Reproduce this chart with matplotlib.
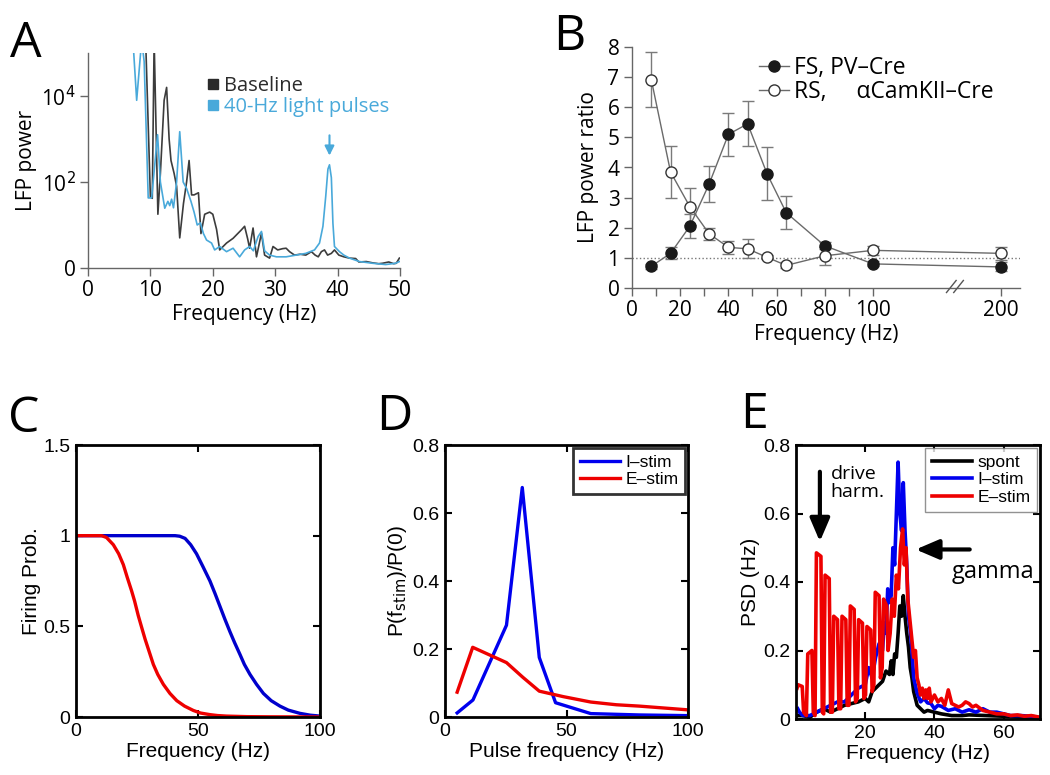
import numpy as np
import matplotlib.pyplot as plt
from matplotlib.lines import Line2D

# ---------------- panel A: LFP spectra (log10 power) ----------------
a_base_f = [8.4, 9.3, 10.0, 10.3, 10.6, 11.2, 11.6, 12.2, 12.6, 13.0, 13.3, 13.8, 14.2,
            14.7, 15.3, 15.8, 16.2, 16.6, 17.0, 17.7, 18.1, 18.7, 19.5, 20.0, 20.6,
            21.1, 22.2, 23.25, 24.6, 25.1, 25.6, 25.9, 26.45, 27.0, 27.8, 28.3, 29.1,
            29.65, 30.4, 31.2, 31.75, 32.3, 33.1, 34.0, 34.9, 35.8, 36.4, 36.9, 37.4,
            37.9, 38.4, 39.0, 39.5, 40.2, 41.0, 41.9, 42.9, 43.4, 44.6, 45.6, 46.6,
            47.2, 48.2, 49.0, 49.4, 49.9]
a_base_lp = [5.3, 5.0, 1.65, 1.62, 5.3, 1.25, 2.2, 3.9, 4.2, 3.0, 2.5, 2.2, 1.9,
             0.7, 1.5, 2.0, 2.5, 1.7, 1.7, 1.75, 0.8, 1.25, 1.3, 1.25, 0.9,
             0.42, 0.58, 0.69, 0.89, 0.97, 0.67, 0.46, 0.93, 0.26, 0.81, 0.3, 0.23,
             0.5, 0.42, 0.45, 0.46, 0.38, 0.3, 0.32, 0.3, 0.38, 0.3, 0.26, 0.38,
             0.42, 0.3, 0.34, 0.42, 0.3, 0.26, 0.23, 0.22, 0.14, 0.15, 0.12, 0.1,
             0.11, 0.14, 0.1, 0.11, 0.23]
a_stim_f = [7.2, 7.8, 8.6, 9.0, 9.65, 10.2, 11.15, 11.6, 12.3, 12.8, 13.1, 13.4, 13.7,
            14.2, 14.7, 15.25, 15.8, 16.5, 17.0, 17.5, 18.0, 18.5, 19.0, 19.8, 20.3,
            21.1, 22.2, 23.25, 24.3, 25.1, 25.9, 26.5, 27.25, 27.8, 28.3, 29.1, 30.2,
            31.75, 33.35, 34.9, 36.3, 37.1, 37.65, 38.1, 38.45, 38.7, 39.0, 39.25,
            39.5, 40.3, 41.0, 41.9, 43.5, 45.6, 47.7, 49.3, 49.9]
a_stim_lp = [5.3, 3.9, 5.3, 4.8, 1.63, 1.63, 3.1, 2.0, 1.39, 1.55, 1.45, 1.6, 1.4,
             2.0, 3.17, 2.0, 1.85, 1.55, 1.3, 1.0, 1.05, 0.8, 0.65, 0.58, 0.42,
             0.5, 0.38, 0.46, 0.26, 0.42, 0.5, 0.4, 0.73, 0.85, 0.4, 0.3, 0.26,
             0.26, 0.3, 0.34, 0.42, 0.58, 0.97, 1.67, 2.3, 2.4, 2.1, 1.04,
             0.5, 0.38, 0.3, 0.23, 0.15, 0.11, 0.08, 0.11, 0.15]

# ---------------- panel B: power ratio vs stim frequency ----------------
b_freq = [8, 16, 24, 32, 40, 48, 56, 64, 80, 100, 200]
fs_mean = [0.72, 1.15, 2.05, 3.45, 5.1, 5.45, 3.8, 2.5, 1.4, 0.8, 0.7]
fs_err = [0.08, 0.2, 0.4, 0.6, 0.72, 0.75, 0.88, 0.55, 0.12, 0.08, 0.15]
rs_mean = [6.92, 3.85, 2.7, 1.8, 1.35, 1.3, 1.02, 0.75, 1.07, 1.25, 1.15]
rs_err = [0.92, 0.87, 0.62, 0.2, 0.22, 0.32, 0.06, 0.1, 0.3, 0.15, 0.22]
B_POS_200 = 153      # where 200 Hz sits on the broken axis
B_BREAK = 134
B_END = 161

# ---------------- panel C: firing probability ----------------
c_blue_f = [0, 10, 20, 30, 40.6, 42.5, 44.7, 47, 49.4, 52, 54.9, 57, 59, 61, 63.1, 65,
            67.2, 69, 71.3, 74, 76.8, 80, 83.6, 87, 91.8, 96, 100]
c_blue_p = [1, 1, 1, 1, 1, 0.997, 0.985, 0.95, 0.9, 0.83, 0.75, 0.68, 0.61, 0.54, 0.47,
            0.41, 0.345, 0.29, 0.235, 0.18, 0.13, 0.09, 0.06, 0.038, 0.02, 0.01, 0.005]
c_red_f = [0, 5, 10.5, 12.5, 15.3, 17.5, 19.4, 21, 22.8, 24, 25.5, 27, 28.3, 30, 31.7,
           33.5, 35.8, 38.5, 41.3, 44.5, 48.1, 51, 54.9, 58, 61.7, 70, 80, 100]
c_red_p = [1, 1, 1, 0.99, 0.95, 0.9, 0.84, 0.77, 0.695, 0.64, 0.56, 0.49, 0.43, 0.36,
           0.29, 0.235, 0.18, 0.13, 0.09, 0.06, 0.036, 0.022, 0.013, 0.008, 0.005,
           0.002, 0.001, 0.0]

# ---------------- panel D: relative power at stim frequency ----------------
d_f = [5, 11.5, 25.3, 31.8, 38.8, 45.5, 60, 80, 100]
d_istim = [0.012, 0.05, 0.27, 0.675, 0.175, 0.042, 0.01, 0.006, 0.004]
d_estim_f = [5, 11.4, 25.3, 32, 38.8, 48.6, 60, 70.5, 80, 100]
d_estim = [0.073, 0.205, 0.16, 0.117, 0.076, 0.06, 0.044, 0.036, 0.032, 0.021]

# ---------------- panel E: PSD ----------------
e_spont_f = [0.5, 2, 4, 6, 8, 10, 12, 14, 16, 18, 20, 21, 22, 23, 24, 25, 26, 27, 27.5,
             28, 28.5, 29, 29.5, 30, 30.5, 31, 31.5, 32, 32.5, 33, 33.5, 34, 35, 36, 37,
             38, 40, 42, 45, 48, 50, 55, 60, 65, 70]
e_spont = [0.01, 0.01, 0.005, 0.02, 0.03, 0.02, 0.03, 0.04, 0.045, 0.05, 0.06, 0.05,
           0.08, 0.09, 0.1, 0.11, 0.14, 0.13, 0.17, 0.13, 0.19, 0.18, 0.25, 0.33, 0.3,
           0.36, 0.3, 0.25, 0.21, 0.15, 0.12, 0.08, 0.04, 0.03, 0.02, 0.025, 0.02,
           0.015, 0.01, 0.01, 0.012, 0.01, 0.008, 0.005, 0.003]
e_istim_f = [0.5, 1, 2, 4, 6, 8, 10, 12, 14, 16, 18, 20, 21, 22, 23, 24, 25, 25.5, 26,
             26.5, 27, 27.5, 28, 28.5, 29, 29.5, 30, 30.5, 31, 31.5, 32, 32.5, 33, 33.5,
             34, 35, 36, 37, 38, 39, 40, 41, 42, 44, 46, 48, 50, 52, 54, 56, 58, 60, 62,
             65, 68, 70]
e_istim = [0.03, 0.02, 0.01, 0.01, 0.02, 0.03, 0.04, 0.05, 0.05, 0.07, 0.09, 0.1,
           0.15, 0.12, 0.18, 0.22, 0.2, 0.28, 0.25, 0.38, 0.34, 0.36, 0.5, 0.45, 0.6,
           0.75, 0.6, 0.55, 0.69, 0.55, 0.45, 0.3, 0.26, 0.2, 0.12, 0.076, 0.05, 0.06,
           0.047, 0.045, 0.03, 0.04, 0.037, 0.025, 0.03, 0.02, 0.027, 0.02, 0.03, 0.02,
           0.02, 0.015, 0.01, 0.01, 0.008, 0.005]
e_estim_f = [0.3, 0.6, 1.8, 2.2, 3.0, 3.4, 4.6, 5.0, 5.5, 5.9, 7.2, 7.6, 8.0, 8.4, 9.6,
             10.0, 10.5, 10.9, 12.0, 12.4, 12.9, 13.3, 14.4, 14.8, 15.3, 15.7, 16.8,
             17.2, 17.7, 18.1, 19.2, 19.6, 20.1, 20.5, 21.6, 22.0, 22.5, 22.9, 24.0,
             24.4, 24.9, 25.3, 26.2, 26.6, 27.2, 27.8, 28.4, 29.0, 29.6, 30.2, 30.8,
             31.3, 31.8, 32.3, 32.8, 33.3, 34.0, 34.5, 35.0, 35.5, 36.0, 36.5, 37.0,
             37.5, 38.0, 38.5, 39.0, 40.0, 41.0, 42.0, 43.0, 44.0, 45.0, 46.0, 47.0,
             48.0, 49.0, 50.0, 51.0, 52.0, 54.0, 56.0, 58.0, 60.0, 62.0, 64.0, 66.0,
             68.0, 70.0]
e_estim = [0.09, 0.1, 0.095, 0.02, 0.01, 0.19, 0.2, 0.02, 0.01, 0.485, 0.475, 0.02,
           0.015, 0.42, 0.41, 0.02, 0.02, 0.3, 0.29, 0.03, 0.03, 0.3, 0.29, 0.04, 0.04,
           0.33, 0.32, 0.05, 0.06, 0.29, 0.28, 0.06, 0.07, 0.27, 0.26, 0.08, 0.1,
           0.37, 0.36, 0.12, 0.15, 0.35, 0.33, 0.2, 0.25, 0.35, 0.3, 0.42, 0.38,
           0.5, 0.555, 0.45, 0.5, 0.35, 0.3, 0.25, 0.18, 0.2, 0.12, 0.1, 0.07, 0.09,
           0.06, 0.085, 0.06, 0.09, 0.05, 0.07, 0.05, 0.06, 0.04, 0.085, 0.045, 0.04,
           0.035, 0.04, 0.05, 0.045, 0.035, 0.04, 0.025, 0.02, 0.015, 0.015, 0.01,
           0.012, 0.008, 0.01, 0.006]

W, H = 1050, 775
MYR = ['Open Sans', 'DejaVu Sans']
HEL = ['Liberation Sans', 'DejaVu Sans']
GRAY_AX = '#666666'
A_BLUE = '#49a9da'


def rect(l, t, r, b):
    # pixel box -> figure fraction
    return [l / W, 1 - b / H, (r - l) / W, (b - t) / H]


def style_myriad(ax):
    for s in ['top', 'right']:
        ax.spines[s].set_visible(False)
    for s in ['left', 'bottom']:
        ax.spines[s].set_color(GRAY_AX)
        ax.spines[s].set_linewidth(1.0)
    ax.tick_params(direction='out', length=6, width=1, color=GRAY_AX,
                   labelsize=15, pad=3)
    for lb in ax.get_xticklabels() + ax.get_yticklabels():
        lb.set_family(MYR)


def style_matlab(ax):
    for s in ax.spines.values():
        s.set_linewidth(2.0)
        s.set_color('black')
    ax.tick_params(direction='in', length=5, width=1.5, top=True, right=True,
                   labelsize=14, pad=4)
    for lb in ax.get_xticklabels() + ax.get_yticklabels():
        lb.set_family(HEL)


fig = plt.figure(figsize=(W / 100, H / 100), dpi=100)

# ---------- A ----------
axA = fig.add_axes(rect(88, 53, 400, 268))
axA.plot(a_base_f, a_base_lp, color='#3c3c3c', lw=1.2)
axA.plot(a_stim_f, a_stim_lp, color=A_BLUE, lw=1.2)
axA.set_xlim(0, 50)
axA.set_ylim(0, 5)
axA.set_xticks(range(0, 51, 10))
axA.set_yticks([0, 2, 4])
axA.set_yticklabels(['0', r'10$^2$', r'10$^4$'])
axA.annotate('', xy=(38.7, 2.55), xytext=(38.7, 3.15),
             arrowprops=dict(arrowstyle='-|>', color=A_BLUE, lw=1.5,
                             mutation_scale=14))
axA.set_xlabel('Frequency (Hz)', fontsize=15, family=MYR, labelpad=2)
axA.set_ylabel('LFP power', fontsize=15, family=MYR, labelpad=3)
style_myriad(axA)
axA.legend(
    [Line2D([], [], ls='none', marker='s', color='#2a2a2a', ms=7),
     Line2D([], [], ls='none', marker='s', color=A_BLUE, ms=7)],
    ['Baseline', '40-Hz light pulses'], loc='upper left',
    bbox_to_anchor=(0.36, 0.93), frameon=False, handlelength=0.5,
    handletextpad=0.3, labelspacing=0.05, borderaxespad=0,
    prop={'family': MYR, 'size': 14.5}, labelcolor=['#2a2a2a', A_BLUE])

# ---------- B ----------
axB = fig.add_axes(rect(632, 47, 1020, 288))
bx = np.where(np.array(b_freq) <= 100, b_freq, B_POS_200)
axB.axhline(1, color='#777777', lw=1, ls=':', zorder=1)
axB.errorbar(bx, fs_mean, yerr=fs_err, color='#7a7a7a', lw=1, capsize=4,
             capthick=1, ls='none', zorder=2)
axB.errorbar(bx, rs_mean, yerr=rs_err, color='#7a7a7a', lw=1, capsize=4,
             capthick=1, ls='none', zorder=2)
axB.plot(bx, fs_mean, '-o', color='#6a6a6a', lw=1, mfc='#1a1a1a', mec='#1a1a1a',
         ms=8, zorder=3, label='FS, PV–Cre')
axB.plot(bx, rs_mean, '-o', color='#6a6a6a', lw=1, mfc='white', mec='#333333',
         ms=8, zorder=3, label='RS,     αCamKII–Cre')
axB.set_xlim(0, B_END)
axB.set_ylim(0, 8)
axB.set_xticks([0, 20, 40, 60, 80, 100, B_POS_200])
axB.set_xticklabels(['0', '20', '40', '60', '80', '100', '200'])
axB.set_xticks([10, 30, 50, 70, 90], minor=True)
axB.tick_params(which='minor', direction='out', length=6, width=1, color=GRAY_AX)
axB.set_yticks(range(0, 9))
for dx in (-1.5, 1.5):
    axB.plot([B_BREAK + dx - 2, B_BREAK + dx + 2], [-0.15, 0.25],
             color='#555555', lw=1, clip_on=False, zorder=5)
axB.set_xlabel('Frequency (Hz)', fontsize=15, family=MYR, labelpad=2)
axB.set_ylabel('LFP power ratio', fontsize=15, family=MYR, labelpad=6)
style_myriad(axB)
axB.legend(loc='upper right', bbox_to_anchor=(0.955, 1.0), frameon=False,
           handlelength=1.3, handletextpad=0.2, labelspacing=0.0,
           borderaxespad=0, prop={'family': MYR, 'size': 16.5})

# ---------- C ----------
axC = fig.add_axes(rect(76, 445, 320, 717))
axC.plot(c_blue_f, c_blue_p, color='#0000cc', lw=2.4)
axC.plot(c_red_f, c_red_p, color='#ee0000', lw=2.4)
axC.set_xlim(0, 100)
axC.set_ylim(0, 1.5)
axC.set_xticks([0, 50, 100])
axC.set_yticks([0, 0.5, 1, 1.5])
axC.set_yticklabels(['0', '0.5', '1', '1.5'])
axC.set_xlabel('Frequency (Hz)', fontsize=15, family=HEL, labelpad=2)
axC.set_ylabel('Firing Prob.', fontsize=15, family=HEL, labelpad=2)
style_matlab(axC)

# ---------- D ----------
axD = fig.add_axes(rect(445, 445, 688, 717))
axD.plot(d_f, d_istim, color='#0000ee', lw=2.4, label='I–stim')
axD.plot(d_estim_f, d_estim, color='#ee0000', lw=2.4, label='E–stim')
axD.set_xlim(0, 100)
axD.set_ylim(0, 0.8)
axD.set_xticks([0, 50, 100])
axD.set_yticks([0, 0.2, 0.4, 0.6, 0.8])
axD.set_yticklabels(['0', '0.2', '0.4', '0.6', '0.8'])
axD.set_xlabel('Pulse frequency (Hz)', fontsize=15, family=HEL, labelpad=2)
axD.set_ylabel(r'P(f$_{\rm stim}$)/P(0)', fontsize=15, family=HEL, labelpad=2)
style_matlab(axD)
legD = axD.legend(loc='upper right', frameon=True, fancybox=False,
                  borderaxespad=0.15, handlelength=2.3, handletextpad=0.3,
                  labelspacing=0.15, prop={'family': HEL, 'size': 12.5})
legD.get_frame().set_edgecolor('black')
legD.get_frame().set_linewidth(2)

# ---------- E ----------
axE = fig.add_axes(rect(796, 445, 1040, 719))
axE.plot(e_spont_f, e_spont, color='black', lw=2.6, label='spont')
axE.plot(e_istim_f, e_istim, color='#0000ee', lw=2.6, label='I–stim')
axE.plot(e_estim_f, e_estim, color='#ee0000', lw=2.6, label='E–stim')
axE.set_xlim(0, 70.5)
axE.set_ylim(0, 0.8)
axE.set_xticks([20, 40, 60])
axE.set_yticks([0, 0.2, 0.4, 0.6, 0.8])
axE.set_yticklabels(['0', '0.2', '0.4', '0.6', '0.8'])
axE.set_xlabel('Frequency (Hz)', fontsize=15, family=HEL, labelpad=2)
axE.set_ylabel('PSD (Hz)', fontsize=15, family=HEL, labelpad=2)
style_matlab(axE)
legE = axE.legend(loc='upper right', frameon=True, fancybox=False,
                  borderaxespad=0.15, handlelength=2.3, handletextpad=0.3,
                  labelspacing=0.15, prop={'family': HEL, 'size': 12.5})
legE.get_frame().set_edgecolor('#777777')
legE.get_frame().set_linewidth(1)
axE.annotate('', xy=(6.9, 0.51), xytext=(6.9, 0.73),
             arrowprops=dict(arrowstyle='-|>,head_length=1.4,head_width=0.6',
                             color='black', lw=3))
axE.text(10, 0.69, 'drive\nharm.', fontsize=14, family=MYR, va='center',
         ha='left', linespacing=1.0)
axE.annotate('', xy=(33.8, 0.495), xytext=(51, 0.495),
             arrowprops=dict(arrowstyle='-|>,head_length=1.4,head_width=0.6',
                             color='black', lw=3))
axE.text(45, 0.43, 'gamma', fontsize=17, family=MYR, va='center', ha='left')

# panel letters
for lab, x, y in [('A', 10, 57), ('B', 553, 50), ('C', 8, 432), ('D', 376, 430),
                  ('E', 740, 428)]:
    fig.text(x / W, 1 - y / H, lab, fontsize=36, family=MYR, va='baseline',
             ha='left')

fig.savefig('out.png', dpi=100)
